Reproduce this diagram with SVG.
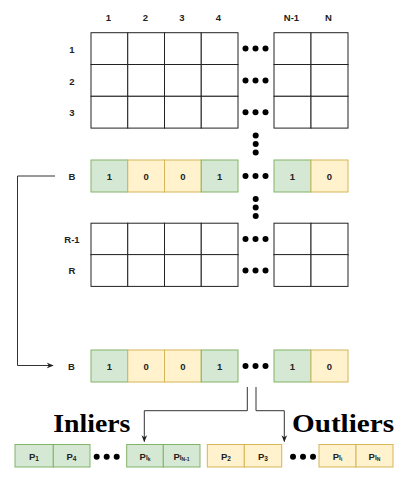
<svg xmlns="http://www.w3.org/2000/svg" width="396" height="481" viewBox="0 0 396 481">
<style>
.lbl{font-family:"Liberation Sans",Arial,sans-serif;font-size:9.5px;font-weight:bold;fill:#222;text-anchor:middle;dominant-baseline:central}
.cell{fill:#fff;stroke:#222;stroke-width:1}
.g{fill:#d5e8d4;stroke:#82b366;stroke-width:1}
.y{fill:#fff2cc;stroke:#d6b656;stroke-width:1}
.dot{fill:#000}
.conn{fill:none;stroke:#333;stroke-width:1}
.big{font-family:"Liberation Serif","Times New Roman",serif;font-size:26px;font-weight:bold;fill:#000}
.sub{font-size:6.5px}
.sub2{font-size:5px}
</style>
<defs>
<marker id="arr" viewBox="0 0 10 10" refX="9" refY="5" markerWidth="7" markerHeight="7" markerUnits="userSpaceOnUse" orient="auto">
<path d="M0,1 L10,5 L0,9 L3,5 Z" fill="#222"/>
</marker>
<g id="rowE">
<rect class="cell" x="91" y="0" width="36.75" height="31.8"/>
<rect class="cell" x="127.75" y="0" width="36.75" height="31.8"/>
<rect class="cell" x="164.5" y="0" width="36.75" height="31.8"/>
<rect class="cell" x="201.25" y="0" width="36.75" height="31.8"/>
<rect class="cell" x="274" y="0" width="37" height="31.8"/>
<rect class="cell" x="311" y="0" width="37" height="31.8"/>
<circle class="dot" cx="245.5" cy="15.9" r="3"/>
<circle class="dot" cx="255.5" cy="15.9" r="3"/>
<circle class="dot" cx="265.5" cy="15.9" r="3"/>
</g>
<g id="rowB">
<rect class="g" x="91" y="0" width="36.75" height="32"/>
<rect class="y" x="127.75" y="0" width="36.75" height="32"/>
<rect class="y" x="164.5" y="0" width="36.75" height="32"/>
<rect class="g" x="201.25" y="0" width="36.75" height="32"/>
<rect class="g" x="274" y="0" width="37" height="32"/>
<rect class="y" x="311" y="0" width="37" height="32"/>
<text class="lbl" x="109.4" y="16">1</text>
<text class="lbl" x="146.1" y="16">0</text>
<text class="lbl" x="182.9" y="16">0</text>
<text class="lbl" x="219.6" y="16">1</text>
<text class="lbl" x="292.5" y="16">1</text>
<text class="lbl" x="329.5" y="16">0</text>
<circle class="dot" cx="245.5" cy="16" r="3"/>
<circle class="dot" cx="255.5" cy="16" r="3"/>
<circle class="dot" cx="265.5" cy="16" r="3"/>
</g>
</defs>

<g id="col-labels">
<text class="lbl" x="108.5" y="17">1</text>
<text class="lbl" x="145.5" y="17">2</text>
<text class="lbl" x="182" y="17">3</text>
<text class="lbl" x="218.5" y="17">4</text>
<text class="lbl" x="291.5" y="17">N-1</text>
<text class="lbl" x="328.5" y="17">N</text>
</g>

<g id="row-1"><use href="#rowE" y="32.7"/><text class="lbl" x="72" y="49">1</text></g>
<g id="row-2"><use href="#rowE" y="64.5"/><text class="lbl" x="72" y="81">2</text></g>
<g id="row-3"><use href="#rowE" y="96.3"/><text class="lbl" x="72" y="112">3</text></g>

<g id="vdots-top">
<circle class="dot" cx="255.7" cy="135.5" r="3"/>
<circle class="dot" cx="255.7" cy="144" r="3"/>
<circle class="dot" cx="255.7" cy="152.5" r="3"/>
</g>

<g id="row-B"><use href="#rowB" y="160"/><text class="lbl" x="72" y="176">B</text></g>

<g id="vdots-mid">
<circle class="dot" cx="255.7" cy="199" r="3"/>
<circle class="dot" cx="255.7" cy="207.5" r="3"/>
<circle class="dot" cx="255.7" cy="216" r="3"/>
</g>

<g id="row-R-1"><use href="#rowE" y="223.2"/><text class="lbl" x="72" y="239">R-1</text></g>
<g id="row-R"><use href="#rowE" y="254.6"/><text class="lbl" x="72" y="270">R</text></g>

<g id="row-B2"><use href="#rowB" y="350"/><text class="lbl" x="71.5" y="366">B</text></g>

<g id="connectors">
<path class="conn" d="M55,176 H17.5 V365.5 H53" marker-end="url(#arr)"/>
<path class="conn" d="M247.3,387 V410.7 H144.3 V441.5" marker-end="url(#arr)"/>
<path class="conn" d="M256,387 V410.7 H284.3 V441.5" marker-end="url(#arr)"/>
</g>

<g id="inliers-label"><text class="big" x="53.3" y="431.7" textLength="77" lengthAdjust="spacingAndGlyphs">Inliers</text></g>
<g id="outliers-label"><text class="big" x="292" y="431.7" textLength="102" lengthAdjust="spacingAndGlyphs">Outliers</text></g>

<g id="inliers">
<rect class="g" x="15" y="444.5" width="38.3" height="22.5"/>
<rect class="g" x="53.3" y="444.5" width="36.7" height="22.5"/>
<rect class="g" x="126.7" y="444.5" width="36.6" height="22.5"/>
<rect class="g" x="163.3" y="444.5" width="36.7" height="22.5"/>
<text class="lbl" x="34" y="456">P<tspan class="sub" dy="2">1</tspan></text>
<text class="lbl" x="71.5" y="456">P<tspan class="sub" dy="2">4</tspan></text>
<text class="lbl" x="145" y="456">P<tspan class="sub" dy="1">I</tspan><tspan class="sub2" dy="1.5">k</tspan></text>
<text class="lbl" x="181.5" y="456">P<tspan class="sub" dy="1">I</tspan><tspan class="sub2" dy="1.5">N-1</tspan></text>
<circle class="dot" cx="96.7" cy="456.7" r="3"/>
<circle class="dot" cx="106.7" cy="456.7" r="3"/>
<circle class="dot" cx="116.7" cy="456.7" r="3"/>
</g>

<g id="outliers">
<rect class="y" x="207.3" y="444.5" width="37" height="22.5"/>
<rect class="y" x="244.3" y="444.5" width="37.4" height="22.5"/>
<rect class="y" x="319" y="444.5" width="37" height="22.5"/>
<rect class="y" x="356" y="444.5" width="37" height="22.5"/>
<text class="lbl" x="226" y="456">P<tspan class="sub" dy="2">2</tspan></text>
<text class="lbl" x="263" y="456">P<tspan class="sub" dy="2">3</tspan></text>
<text class="lbl" x="337.5" y="456">P<tspan class="sub" dy="1">I</tspan><tspan class="sub2" dy="1.5">i</tspan></text>
<text class="lbl" x="374.5" y="456">P<tspan class="sub" dy="1">I</tspan><tspan class="sub2" dy="1.5">N</tspan></text>
<circle class="dot" cx="293" cy="456.7" r="3"/>
<circle class="dot" cx="303" cy="456.7" r="3"/>
<circle class="dot" cx="313" cy="456.7" r="3"/>
</g>
</svg>
